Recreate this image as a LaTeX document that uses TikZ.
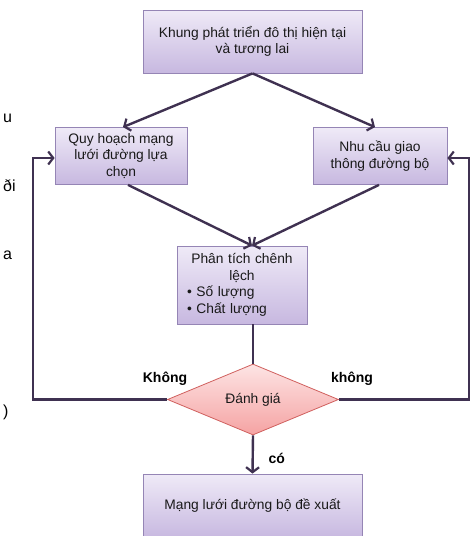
\documentclass[tikz,border=0pt]{standalone}
\usepackage{fontspec}
\setmainfont{Liberation Sans}
\usepackage{xcolor}
\usepackage{tikz}
\usetikzlibrary{positioning, shapes.geometric, arrows.meta, calc}

\definecolor{linecol}{HTML}{3F3151}
\definecolor{boxtop}{HTML}{EFEAF7}
\definecolor{boxbot}{HTML}{C7B8E0}
\definecolor{boxline}{HTML}{9585B5}
\definecolor{diatop}{HTML}{FDE4E4}
\definecolor{diabot}{HTML}{F5A3A3}
\definecolor{dialine}{HTML}{D0605E}

\begin{document}
\begin{tikzpicture}[x=1pt, y=-1pt,
      box/.style={rectangle, draw=boxline, line width=0.8pt, top color=boxtop, bottom color=boxbot,
        align=center, inner sep=3pt, text=black!90, font=\fontsize{13.8}{16.5}\selectfont},
      decide/.style={diamond, draw=dialine, line width=0.8pt, top color=diatop, bottom color=diabot,
        inner sep=0pt, minimum width=171pt, minimum height=71pt, text=black!90, font=\fontsize{13.8}{16.5}\selectfont},
      conn/.style={draw=linecol, line width=2.4pt},
      arr/.style={conn, -{Straight Barb[length=5pt, width=13pt, line width=2.2pt]}},
      lbl/.style={font=\bfseries\fontsize{14}{16}\selectfont},
      cut/.style={anchor=west, inner sep=0pt, font=\fontsize{16}{18}\selectfont}]

      \useasboundingbox (0,0) rectangle (471,536);

      % Boxes
      \node[box, minimum width=219pt, minimum height=63pt] (frame) at (252.5,41.5)
        {Khung phát triển đô thị hiện tại\\ và tương lai};
      \node[box, minimum width=132pt, minimum height=57pt] (plan) at (121,156)
        {Quy hoạch mạng\\ lưới đường lựa\\ chọn};
      \node[box, minimum width=134pt, minimum height=57pt] (demand) at (380,156)
        {Nhu cầu giao\\ thông đường bộ};
      \node[box, minimum width=130pt, minimum height=78pt, text width=110pt, align=left] (gap) at (242,285)
        {\centering Phân tích chênh\\ lệch\par\raggedright • Số lượng\\ • Chất lượng};
      \node[decide] (eval) at (253,399.5) {Đánh giá};
      \node[box, minimum width=219pt, minimum height=64pt] (result) at (252.5,506)
        {Mạng lưới đường bộ đề xuất};

      % Loop corners
      \coordinate (lloop) at (33,0);
      \coordinate (rloop) at (469,0);

      % Connectors
      \draw[arr] (frame.south) -- ([xshift=2pt]plan.north);
      \draw[arr] (frame.south) -- ([xshift=-5pt]demand.north);
      \draw[arr] ([xshift=7pt]plan.south) -- ([xshift=10pt]gap.north);
      \draw[arr] ([xshift=-1pt]demand.south) -- ([xshift=10pt]gap.north);
      \draw[conn] ([xshift=11pt]gap.south) -- (eval.north);
      \draw[arr] (eval.south) -- (result.north);
      \draw[arr] (eval.west) -- (eval.west -| lloop) |- ([yshift=-2pt]plan.west);
      \draw[arr] (eval.east) -- (eval.east -| rloop) |- ([yshift=-2pt]demand.east);

      % Labels
      \node[lbl] (no1) at (165,379) {Không};
      \node[lbl] (no2) at (352,379) {không};
      \node[lbl, right=12pt of eval.south, yshift=-23pt] (yes) {có};

      % Cut text on the left edge
      \node[cut] (c1) at (3,118) {u};
      \node[cut] (c2) at (3,186) {ði};
      \node[cut] (c3) at (3,255) {a};
      \node[cut] (c4) at (3,412) {)};
    \end{tikzpicture}
\end{document}
